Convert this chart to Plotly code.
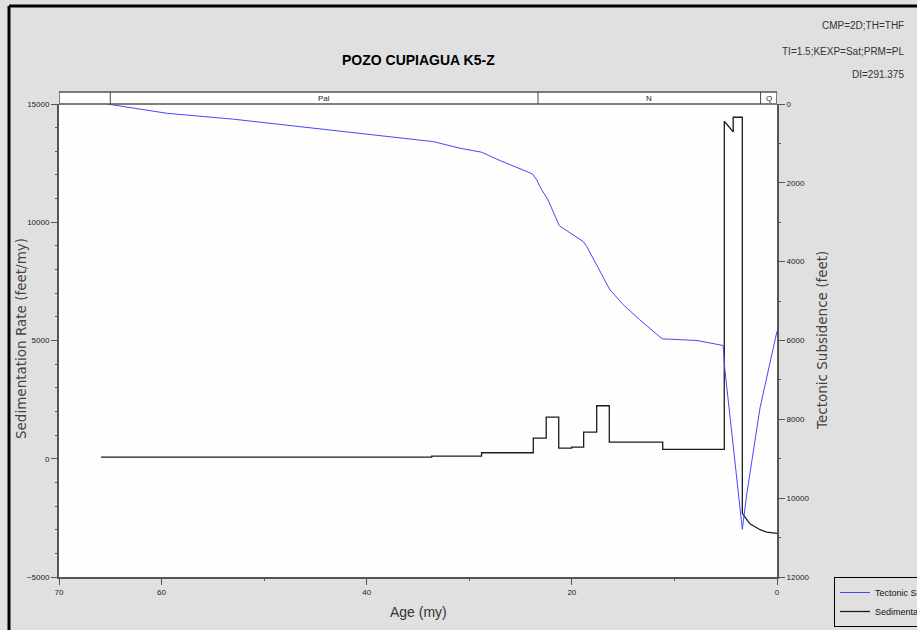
import plotly.graph_objects as go

# Tectonic subsidence curve (feet), age in my
subs_age = [65.3, 59.5, 53.0, 46.5, 40.0, 36.75, 33.5, 30.9, 28.8, 27.0, 23.85, 23.43,
            22.94, 22.33, 21.22, 18.9, 18.55, 16.3, 15.0, 13.4, 11.2, 7.8, 5.25, 5.1,
            3.38, 2.95, 1.65, 0.0]
subs_ft = [0, 235, 385, 575, 760, 843, 955, 1123, 1223, 1435, 1772, 1924,
           2177, 2431, 3089, 3487, 3613, 4710, 5089, 5469, 5958, 6000, 6127, 6700,
           10790, 9900, 7700, 5765]

# Sedimentation rate (feet/my): constant-rate intervals between these ages
sed_step_age = [65.9, 33.66, 28.8, 23.76, 22.5, 21.28, 20.02, 18.85, 17.58, 16.35, 11.14, 5.14]
sed_step_rate = [70, 115, 254, 875, 1763, 452, 495, 1129, 2242, 706, 394]
# Youngest part of the rate history (point by point)
sed_tail_age = [5.14, 4.27, 4.27, 3.38, 3.38, 3.28, 2.63, 1.65, 1.0, 0.0]
sed_tail_rate = [14270, 13820, 14440, 14440, -2300, -2370, -2750, -3000, -3100, -3160]

# Stratigraphic units shown in the header strip
unit_names = ["", "Pal", "N", "Q"]
unit_bounds = [70, 65.0, 23.3, 1.6, 0.0]

# Build the step polyline for the rate curve
sed_x, sed_y = [], []
for i, r in enumerate(sed_step_rate):
    sed_x += [sed_step_age[i], sed_step_age[i + 1]]
    sed_y += [r, r]
sed_x += sed_tail_age
sed_y += sed_tail_rate

BG = "#e0e0e0"
NARROW = "Liberation Sans Narrow, Arial Narrow, Liberation Sans, Arial"
AX = "#555555"

fig = go.Figure()
fig.add_trace(go.Scatter(x=subs_age, y=subs_ft, yaxis="y2", mode="lines",
                         name="Tectonic Subsidence (feet)",
                         line=dict(color="#4646ff", width=1)))
fig.add_trace(go.Scatter(x=sed_x, y=sed_y, mode="lines",
                         name="Sedimentation Rate (feet/my)",
                         line=dict(color="#1c1c1c", width=1.3)))

L, R, T, B = 59, 777, 104, 577
W, H = 917, 630


def px(xp):
    return (xp - L) / (R - L)


def py(yp):
    return (B - yp) / (B - T)


shapes = []
# header strip with unit boundaries
shapes.append(dict(type="rect", xref="x", yref="paper", x0=70, x1=0,
                   y0=1.0, y1=py(92), fillcolor="white",
                   line=dict(color=AX, width=1.5), layer="above"))
for b in unit_bounds[1:-1]:
    shapes.append(dict(type="line", xref="x", yref="paper", x0=b, x1=b,
                       y0=1.0, y1=py(92), line=dict(color="#444", width=1)))
# outer frame
shapes.append(dict(type="line", xref="paper", yref="paper", x0=px(9), x1=px(W + 5),
                   y0=py(6), y1=py(6), line=dict(color="black", width=3)))
shapes.append(dict(type="line", xref="paper", yref="paper", x0=px(9), x1=px(9),
                   y0=py(6), y1=py(H + 5), line=dict(color="black", width=3)))


def note(x, y, text, font, xref="paper", xanchor="center", **kw):
    return dict(x=x, y=y, xref=xref, yref="paper", text=text, showarrow=False,
                xanchor=xanchor, yanchor="middle", font=font, **kw)


annotations = []
for i, name in enumerate(unit_names):
    if name:
        mid = (unit_bounds[i] + unit_bounds[i + 1]) / 2
        annotations.append(note(mid, py(98), name, dict(family=NARROW, size=8, color="#222"),
                                xref="x"))

annotations.append(note(px(418), py(60), "<b>POZO CUPIAGUA K5-Z</b>",
                        dict(family="Liberation Sans, Arial", size=14, color="black")))
for txt, yy in [("CMP=2D;TH=THF", 26), ("TI=1.5;KEXP=Sat;PRM=PL", 51), ("DI=291.375", 75)]:
    annotations.append(note(px(906), py(yy), txt, dict(family=NARROW, size=10, color="#333"),
                            xanchor="right"))
annotations.append(note(px(21), py(339), "Sedimentation Rate (feet/my)",
                        dict(family="DejaVu Sans", size=13.5, color="#444"), textangle=-90))
annotations.append(note(px(822), py(341), "Tectonic Subsidence (feet)",
                        dict(family="DejaVu Sans", size=13.5, color="#444"), textangle=-90))
annotations.append(note(px(418), py(612), "Age (my)", dict(family=NARROW, size=14, color="#333")))

tickfont = dict(family=NARROW, size=8, color="#222")

fig.update_layout(
    width=W, height=H, autosize=False,
    margin=dict(l=L, r=W - R, t=T, b=H - B, pad=0, autoexpand=False),
    paper_bgcolor=BG, plot_bgcolor="#fefefe",
    showlegend=True,
    legend=dict(x=px(834), y=py(577), xanchor="left", yanchor="top",
                bgcolor=BG, bordercolor="black", borderwidth=1,
                font=dict(family=NARROW, size=9, color="#111"),
                tracegroupgap=0, itemwidth=30),
    xaxis=dict(range=[70, 0], tickvals=[70, 60, 40, 20, 0], ticks="outside", ticklen=6,
               tickcolor=AX, showline=True, linecolor=AX, linewidth=2, mirror=False,
               showgrid=False, zeroline=False, tickfont=tickfont, tickformat="d",
               minor=dict(tickvals=[50, 30, 10], ticks="outside", ticklen=2, tickcolor=AX)),
    yaxis=dict(range=[-5000, 15000], tickvals=[-5000, 0, 5000, 10000, 15000],
               ticks="outside", ticklen=6, tickcolor=AX, showline=True, linecolor=AX,
               linewidth=2, showgrid=False, zeroline=False, tickfont=tickfont, tickformat="d",
               minor=dict(dtick=1000, ticks="outside", ticklen=2, tickcolor=AX)),
    yaxis2=dict(range=[12000, 0], overlaying="y", side="right",
                tickvals=[0, 2000, 4000, 6000, 8000, 10000, 12000],
                ticks="outside", ticklen=6, tickcolor=AX, showline=True, linecolor=AX,
                linewidth=2, showgrid=False, zeroline=False, tickfont=tickfont, tickformat="d",
                minor=dict(dtick=1000, ticks="outside", ticklen=2, tickcolor=AX)),
    shapes=shapes,
    annotations=annotations,
)

fig.write_html("out.html")
